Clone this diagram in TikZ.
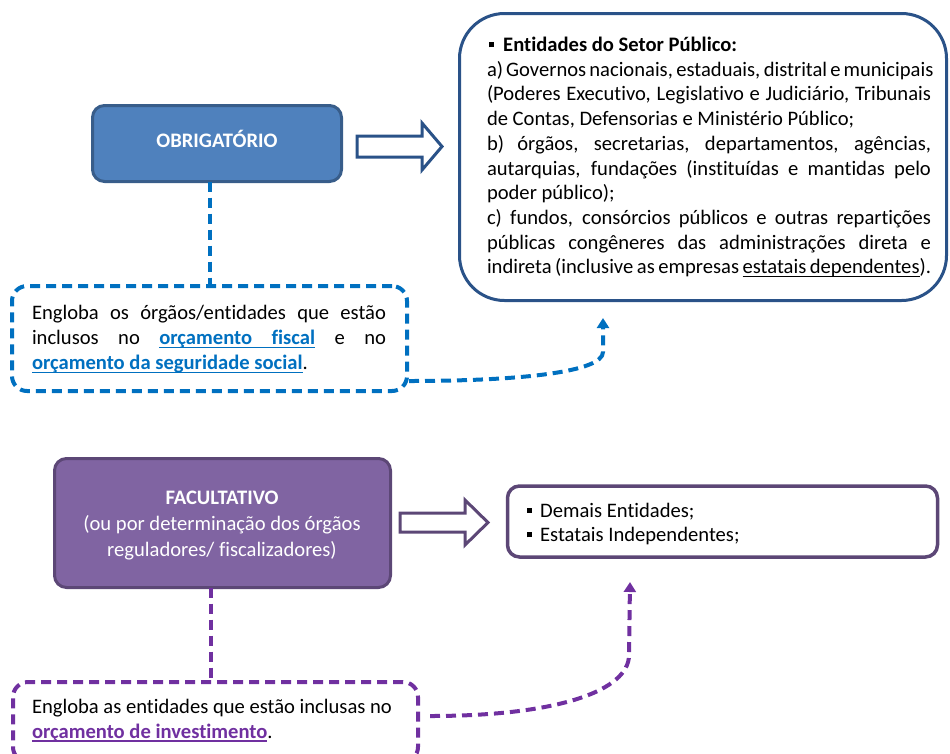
\documentclass[tikz,border=0pt]{standalone}
\usepackage{fontspec}
\setmainfont[Ligatures=NoCommon]{Carlito}
\usetikzlibrary{arrows.meta,calc}
\definecolor{obfill}{HTML}{4F81BD}
\definecolor{obdraw}{HTML}{385D8A}
\definecolor{navy}{HTML}{2A5288}
\definecolor{bdash}{HTML}{0070C0}
\definecolor{facfill}{HTML}{8064A2}
\definecolor{facdraw}{HTML}{5C4776}
\definecolor{pdash}{HTML}{7030A0}
\newcommand{\fsz}{\fontsize{20.6}{24.8}\selectfont}
\newcommand{\jline}[2]{\makebox[#1][s]{#2}}
\newcommand{\sqb}{\raisebox{0.2em}{\rule{0.24em}{0.24em}}}
\newcommand{\myul}[1]{\setbox0\hbox{#1}\rlap{\rule[-3.6pt]{\wd0}{1.3pt}}\box0}
\newcommand{\ulsp}{\leaders\hrule height -2.3pt depth 3.6pt\hskip\fontdimen2\font plus\fontdimen3\font minus\fontdimen4\font}
\begin{document}
\begin{tikzpicture}[x=1pt,y=-1pt,
  every node/.style={inner sep=0pt,outer sep=0pt},
  txt/.style={anchor=base west,font=\fsz},
  ctxt/.style={anchor=base,font=\fsz,text=white},
  solidbox/.style={rounded corners=12pt,line width=3pt},
  dashbox/.style={rounded corners=15pt,line width=4pt,dash pattern=on 10pt off 6pt},
  dashconn/.style={line width=4pt,dash pattern=on 10pt off 6pt,-{Triangle[width=12pt,length=10pt]}},
  hollow/.style={line width=3pt,fill=white,line join=miter}]
\useasboundingbox (0,0) rectangle (950,753);
\clip (0,0) rectangle (950,753);

% ---------- top part ----------
\node[solidbox,draw=obdraw,fill=obfill,minimum width=249pt,minimum height=76pt] (obr) at (217,143.5) {};
\node[ctxt,font=\fsz\bfseries] (obrt) at (217,147) {OBRIGATÓRIO};

\node[draw=navy,line width=3pt,rounded corners=45pt,minimum width=487pt,minimum height=287pt] (pub) at (703,157) {};
\node[txt] (p1) at (489,51.5) {\sqb\hspace{0.45em}\textbf{Entidades do Setor Público:}};
\node[txt] (p2) at (487,76.2) {\jline{444pt}{a) Governos nacionais, estaduais, distrital e municipais}};
\node[txt] (p3) at (487,100.9) {\jline{444pt}{(Poderes Executivo, Legislativo e Judiciário, Tribunais}};
\node[txt] (p4) at (487,125.6) {de Contas, Defensorias e Ministério Público;};
\node[txt] (p5) at (487,150.3) {\jline{444pt}{b) órgãos, secretarias, departamentos, agências,}};
\node[txt] (p6) at (487,175.0) {\jline{444pt}{autarquias, fundações (instituídas e mantidas pelo}};
\node[txt] (p7) at (487,199.7) {poder público);};
\node[txt] (p8) at (487,224.4) {\jline{444pt}{c) fundos, consórcios públicos e outras repartições}};
\node[txt] (p9) at (487,249.1) {\jline{444pt}{públicas congêneres das administrações direta e}};
\node[txt] (p10) at (487,273.8) {\jline{444pt}{indireta (inclusive as empresas \myul{estatais}\ulsp\myul{dependentes}).}};

% hollow arrow (blue)
\coordinate (ba) at (357,146.5);
\draw[hollow,draw=navy] (ba) ++(0,-10.5) -- ++(65,0) -- ++(0,-13) -- (442,146.5) -- (422,170) -- ++(0,-13) -- ++(-65,0) -- cycle;

\node[dashbox,draw=bdash,minimum width=395pt,minimum height=105pt] (bbox) at (209.5,338.5) {};
\node[txt] (b1) at (32,319) {\jline{354pt}{Engloba os órgãos/entidades que estão}};
\node[txt] (b2) at (32,344.5) {\jline{354pt}{inclusos no {\color{bdash}\bfseries\myul{orçamento}\ulsp\myul{fiscal}} e no}};
\node[txt] (b3) at (32,369.5) {{\color{bdash}\bfseries\myul{orçamento da seguridade social}}.};

\draw[bdash,line width=4pt,dash pattern=on 10pt off 6pt] (obr.south -| 210,0) -- (bbox.north -| 210,0);
\coordinate (bs) at (409,381);
\coordinate (be) at (603,318);
\draw[dashconn,bdash] (bs) .. controls (520,381) and (603,372) .. (603,352) -- (be);

% ---------- bottom part ----------
\node[solidbox,draw=facdraw,fill=facfill,minimum width=336pt,minimum height=129pt] (fac) at (222.5,523) {};
\node[ctxt,font=\fsz\bfseries] (f1) at (222,504) {FACULTATIVO};
\node[ctxt] (f2) at (222,530) {(ou por determinação dos órgãos};
\node[ctxt] (f3) at (222,556) {reguladores/ fiscalizadores)};

\coordinate (pa) at (400,522.5);
\draw[hollow,draw=facdraw] (pa) ++(0,-9.5) -- ++(65,0) -- ++(0,-13) -- (488,522.5) -- (465,545) -- ++(0,-13) -- ++(-65,0) -- cycle;

\node[draw=facdraw,line width=3.5pt,rounded corners=12pt,minimum width=430pt,minimum height=71pt] (dem) at (722.5,521.5) {};
\node[txt] (d1) at (527,517) {\sqb\hspace{0.4em}Demais Entidades;};
\node[txt] (d2) at (527,541.5) {\sqb\hspace{0.4em}Estatais Independentes;};

\node[dashbox,draw=pdash,minimum width=405pt,minimum height=80pt] (pbox) at (215.5,722) {};
\node[txt] (q1) at (32,713) {Engloba as entidades que estão inclusas no};
\node[txt] (q2) at (32,738) {{\color{pdash}\bfseries\myul{orçamento de investimento}}.};

\draw[pdash,line width=4pt,dash pattern=on 10pt off 6pt] (fac.south -| 211,0) -- (pbox.north -| 211,0);
\coordinate (ps) at (430,716);
\coordinate (pe) at (630,582);
\draw[dashconn,pdash] (ps) .. controls (560,716) and (629,690) .. (629,655) -- (pe);
\end{tikzpicture}
\end{document}
